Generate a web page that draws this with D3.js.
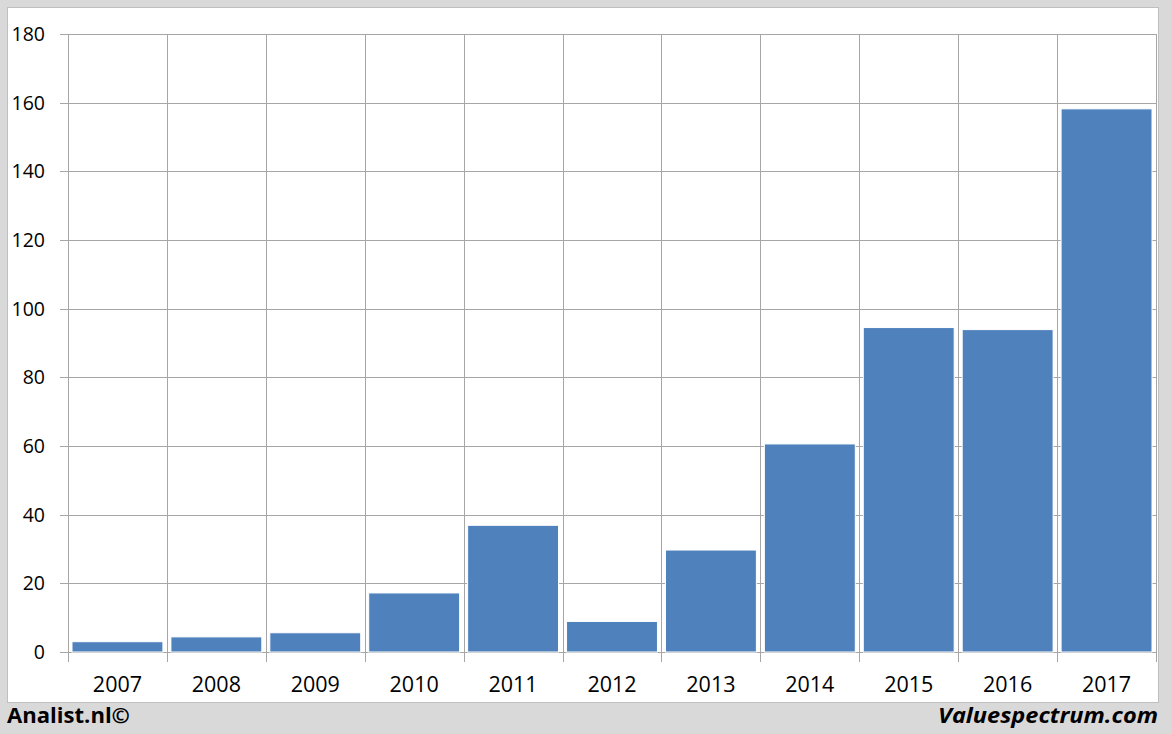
<!DOCTYPE html>
<html><head><meta charset="utf-8">
<script src="https://cdn.jsdelivr.net/npm/d3@7"></script>
<style>body{margin:0;background:#d9d9d9;}svg{display:block;}</style>
</head><body>
<svg id="c" width="1172" height="734"></svg>
<script>
const categories = ["2007","2008","2009","2010","2011","2012","2013","2014","2015","2016","2017"];
const values = [3.0, 4.4, 5.6, 17.2, 36.9, 8.9, 29.7, 60.6, 94.5, 93.9, 158.2];
const yTicks = [0,20,40,60,80,100,120,140,160,180];

const svg = d3.select("#c");
const font = "'Open Sans', 'DejaVu Sans', sans-serif";
svg.append("rect").attr("x",0).attr("y",0).attr("width",1172).attr("height",734).attr("fill","#d9d9d9");
svg.append("rect").attr("x",7.5).attr("y",7.5).attr("width",1151).attr("height",695).attr("fill","#fff").attr("stroke","#bfbfbf");

const L=68, R=1156, T=34, B=652;
const x = d3.scaleBand().domain(categories).range([L,R]).paddingInner(0).paddingOuter(0);
const y = d3.scaleLinear().domain([0,180]).range([B,T]);

// horizontal grid
svg.append("g").selectAll("line").data(yTicks).join("line")
  .attr("x1",L-8).attr("x2",R).attr("y1",d=>Math.round(y(d))+0.5).attr("y2",d=>Math.round(y(d))+0.5)
  .attr("stroke","#a6a6a6").attr("stroke-width",1);
// vertical grid
const edges = categories.map(c=>x(c)).concat([R]);
svg.append("g").selectAll("line").data(edges).join("line")
  .attr("x1",d=>Math.round(d)+0.5).attr("x2",d=>Math.round(d)+0.5).attr("y1",T).attr("y2",B+10)
  .attr("stroke","#a6a6a6").attr("stroke-width",1);

// bars
const pad = 4;
svg.append("g").selectAll("rect").data(values).join("rect")
  .attr("x",(d,i)=>x(categories[i])+pad)
  .attr("width",x.bandwidth()-2*pad)
  .attr("y",d=>y(d))
  .attr("height",d=>y(0)-y(d))
  .attr("fill","#4f81bd").attr("stroke","#fff").attr("stroke-width",1);

// y labels
svg.append("g").selectAll("text").data(yTicks).join("text")
  .attr("x",45).attr("y",d=>y(d)).attr("dy","0.36em").attr("text-anchor","end")
  .attr("font-family",font).attr("font-size",19.5).attr("fill","#000").text(d=>d);
// x labels
svg.append("g").selectAll("text").data(categories).join("text")
  .attr("x",d=>x(d)+x.bandwidth()/2).attr("y",692).attr("text-anchor","middle")
  .attr("font-family",font).attr("font-size",21.5).attr("fill","#000").text(d=>d);

svg.append("text").attr("x",7).attr("y",723).attr("font-family",font).attr("font-weight","bold")
  .attr("font-size",21).attr("textLength",123).attr("lengthAdjust","spacingAndGlyphs").text("Analist.nl©");
svg.append("text").attr("x",1158).attr("y",723).attr("text-anchor","end").attr("font-family",font)
  .attr("font-weight","bold").attr("font-style","italic").attr("font-size",21)
  .attr("textLength",220).attr("lengthAdjust","spacingAndGlyphs").text("Valuespectrum.com");
</script>
</body></html>
